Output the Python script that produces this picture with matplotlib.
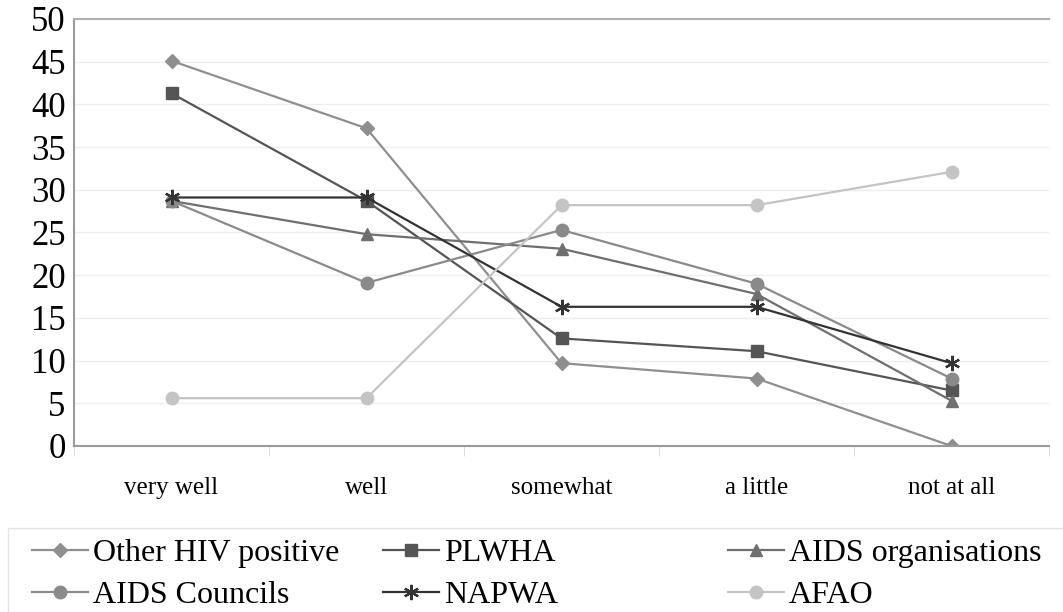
import numpy as np
import matplotlib
matplotlib.use("Agg")
import matplotlib.pyplot as plt
from matplotlib.patches import Rectangle

plt.rcParams['font.family'] = ['Liberation Serif', 'DejaVu Serif']

# data
categories = ["very well", "well", "somewhat", "a little", "not at all"]
other_hiv = [45.1, 37.2, 9.7, 7.9, 0.0]
plwha = [41.3, 28.7, 12.6, 11.1, 6.5]
aids_orgs = [28.7, 24.8, 23.1, 17.8, 5.3]
aids_councils = [28.7, 19.1, 25.3, 19.0, 7.9]
napwa = [29.1, 29.1, 16.3, 16.3, 9.7]
afao = [5.6, 5.6, 28.2, 28.2, 32.1]

series = [
    ("Other HIV positive", other_hiv, "#8f8f8f", "D", 7),
    ("PLWHA", plwha, "#555555", "s", 8.5),
    ("AIDS organisations", aids_orgs, "#6f6f6f", "^", 9),
    ("AIDS Councils", aids_councils, "#8a8a8a", "o", 9),
    ("NAPWA", napwa, "#333333", (6, 2, 0), 11),
    ("AFAO", afao, "#c4c4c4", "o", 9),
]

fig = plt.figure(figsize=(10.63, 6.12), dpi=100)
ax = fig.add_axes([74 / 1063, 1 - 446 / 612, 975 / 1063, 427 / 612])

x = np.arange(len(categories))
handles = {}
for name, vals, col, mk, ms in series:
    h, = ax.plot(x, vals, color=col, marker=mk, markersize=ms, linewidth=1.6,
                 markeredgecolor=col, markeredgewidth=1.6 if mk == (6, 2, 0) else 1,
                 label=name)
    handles[name] = h

ax.set_xlim(-0.5, len(categories) - 0.5)
ax.set_ylim(0, 50)
ax.set_yticks(np.arange(0, 51, 5))
ax.tick_params(axis='y', labelsize=25, length=0, pad=6)
ax.set_xticks(x)
ax.set_xticklabels(categories)
ax.tick_params(axis='x', labelsize=18, length=0, pad=22)
ax.set_xticks(np.arange(-0.5, len(categories), 1), minor=True)
ax.tick_params(axis='x', which='minor', length=7, color="#d8d8d8", direction='out')

ax.grid(axis='y', color="#eeeeee", linewidth=1)
ax.set_axisbelow(True)
for side in ['left', 'bottom', 'top']:
    ax.spines[side].set_color("#9a9a9a")
    ax.spines[side].set_linewidth(1.5)
ax.spines['top'].set_color("#b0b0b0")
ax.spines['right'].set_visible(False)

# legend: frame + three equal-width columns, like the Excel legend
fig.patches.append(Rectangle((8 / 1063, -0.01), 1060 / 1063, (612 - 528) / 612 + 0.01,
                             transform=fig.transFigure, facecolor="none",
                             edgecolor="#e4e4e4", linewidth=1))
columns = [["Other HIV positive", "AIDS Councils"],
           ["PLWHA", "NAPWA"],
           ["AIDS organisations", "AFAO"]]
col_x = [26, 377, 722]
for names, cx in zip(columns, col_x):
    leg = fig.legend([handles[n] for n in names], names, loc='upper left',
                     bbox_to_anchor=(cx / 1063, 1 - 532 / 612), fontsize=23,
                     frameon=False, handlelength=1.75, handletextpad=0.15,
                     labelspacing=0.4, borderpad=0.2, borderaxespad=0)

fig.savefig("out.png", dpi=100)
